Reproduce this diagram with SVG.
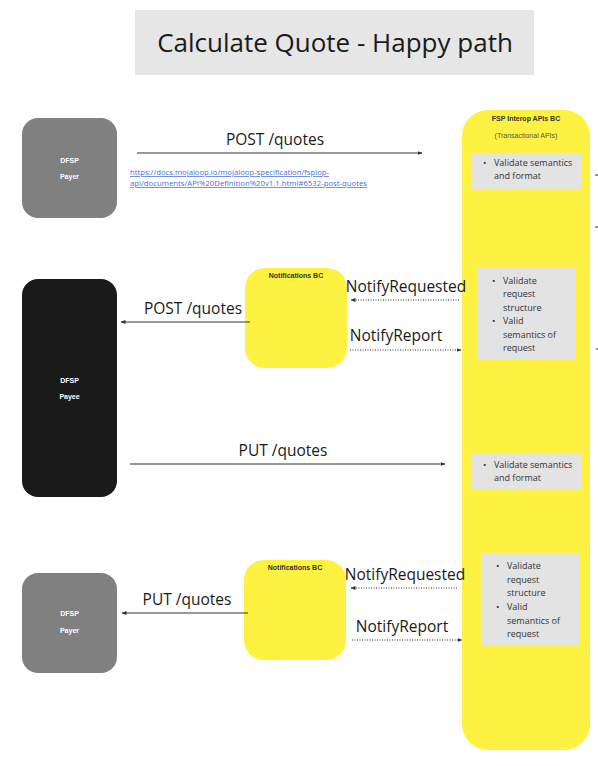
<svg xmlns="http://www.w3.org/2000/svg" width="598" height="766" viewBox="0 0 598 766">
  <defs>
    <marker id="arrow" viewBox="0 0 10 10" refX="9" refY="5" markerWidth="5" markerHeight="5" orient="auto-start-reverse">
      <path d="M0,1 L10,5 L0,9 z" fill="#333"/>
    </marker>
    <style>
      .lbl { font-family: "Open Sans", "Liberation Sans", sans-serif; font-size: 15.5px; fill: #1a1a1a; }
      .node-txt { font-family: "Liberation Sans", Arial, sans-serif; font-size: 7px; font-weight: bold; fill: #ffffff; text-anchor: middle; }
      .bc-title { font-family: "Liberation Sans", Arial, sans-serif; font-size: 7px; font-weight: bold; fill: #333; text-anchor: middle; }
      .bc-sub { font-family: "Liberation Sans", Arial, sans-serif; font-size: 7px; fill: #555; text-anchor: middle; }
      .bullet { font-family: "Open Sans", "Liberation Sans", sans-serif; font-size: 9px; fill: #333; }
      .yellow { fill: #fdf142; }
      .grey-box { fill: #e3e3e3; }
      .solid { stroke: #333; stroke-width: 1; fill: none; }
      .dotted { stroke: #333; stroke-width: 1; stroke-dasharray: 1 1.5; fill: none; }
      .link { font-family: "Open Sans", "Liberation Sans", sans-serif; font-size: 7.6px; fill: #4a6fd5; text-decoration: underline; }
    </style>
  </defs>

  <rect width="598" height="766" fill="#ffffff"/>

  <!-- Title -->
  <g id="title">
    <rect x="135" y="10" width="399" height="65" fill="#e6e6e6"/>
    <text x="335" y="52" text-anchor="middle" font-family="'Open Sans', 'Liberation Sans', sans-serif" font-size="26" fill="#1a1a1a">Calculate Quote - Happy path</text>
  </g>

  <!-- FSP Interop APIs column -->
  <g id="fsp-interop">
    <rect class="yellow" x="462" y="110" width="128" height="640" rx="26"/>
    <text class="bc-title" x="526" y="121">FSP Interop APIs BC</text>
    <text class="bc-sub" x="526" y="138">(Transactional APIs)</text>
    <rect class="grey-box" x="471" y="153" width="111" height="37"/>
    <text class="bullet" x="483" y="166">•</text>
    <text class="bullet" x="494" y="166">Validate semantics</text>
    <text class="bullet" x="494" y="179">and format</text>

    <rect class="grey-box" x="477" y="268" width="99" height="92"/>
    <text class="bullet" x="492" y="284">•</text>
    <text class="bullet" x="503" y="284">Validate</text>
    <text class="bullet" x="503" y="297">request</text>
    <text class="bullet" x="503" y="311">structure</text>
    <text class="bullet" x="492" y="324">•</text>
    <text class="bullet" x="503" y="324">Valid</text>
    <text class="bullet" x="503" y="338">semantics of</text>
    <text class="bullet" x="503" y="351">request</text>

    <rect class="grey-box" x="471" y="454" width="111" height="35"/>
    <text class="bullet" x="483" y="468">•</text>
    <text class="bullet" x="494" y="468">Validate semantics</text>
    <text class="bullet" x="494" y="481">and format</text>

    <rect class="grey-box" x="481" y="553" width="99" height="93"/>
    <text class="bullet" x="496" y="569">•</text>
    <text class="bullet" x="507" y="569">Validate</text>
    <text class="bullet" x="507" y="583">request</text>
    <text class="bullet" x="507" y="596">structure</text>
    <text class="bullet" x="496" y="610">•</text>
    <text class="bullet" x="507" y="610">Valid</text>
    <text class="bullet" x="507" y="624">semantics of</text>
    <text class="bullet" x="507" y="637">request</text>
  </g>

  <!-- DFSP Payer (top) -->
  <g id="dfsp-payer-1">
    <rect x="22" y="118" width="95" height="100" rx="16" fill="#808080"/>
    <text class="node-txt" x="69.5" y="163">DFSP</text>
    <text class="node-txt" x="69.5" y="179">Payer</text>
  </g>

  <!-- DFSP Payee -->
  <g id="dfsp-payee">
    <rect x="22" y="279" width="95" height="218" rx="16" fill="#1a1a1a"/>
    <text class="node-txt" x="69.5" y="383">DFSP</text>
    <text class="node-txt" x="69.5" y="399">Payee</text>
  </g>

  <!-- DFSP Payer (bottom) -->
  <g id="dfsp-payer-2">
    <rect x="22" y="573" width="95" height="100" rx="16" fill="#808080"/>
    <text class="node-txt" x="69.5" y="616">DFSP</text>
    <text class="node-txt" x="69.5" y="633">Payer</text>
  </g>

  <!-- Notifications BC (top) -->
  <g id="notifications-1">
    <rect class="yellow" x="245" y="268" width="102" height="100" rx="20"/>
    <text class="bc-title" x="296" y="278">Notifications BC</text>
  </g>

  <!-- Notifications BC (bottom) -->
  <g id="notifications-2">
    <rect class="yellow" x="244" y="560" width="102" height="100" rx="20"/>
    <text class="bc-title" x="295" y="570">Notifications BC</text>
  </g>

  <!-- Connectors -->
  <g id="connectors">
    <line class="solid" x1="137" y1="153" x2="422" y2="153" marker-end="url(#arrow)"/>
    <text class="lbl" x="275" y="145" text-anchor="middle">POST /quotes</text>
    <text class="link" x="130" y="175" textLength="199" lengthAdjust="spacingAndGlyphs">https://docs.mojaloop.io/mojaloop-specification/fspiop-</text>
    <text class="link" x="130" y="186" textLength="237" lengthAdjust="spacingAndGlyphs">api/documents/API%20Definition%20v1.1.html#6532-post-quotes</text>

    <line class="solid" x1="250" y1="322" x2="121" y2="322" marker-end="url(#arrow)"/>
    <text class="lbl" x="193" y="314" text-anchor="middle">POST /quotes</text>

    <line class="dotted" x1="459" y1="300" x2="351" y2="300" marker-end="url(#arrow)"/>
    <text class="lbl" x="406" y="292" text-anchor="middle">NotifyRequested</text>

    <line class="dotted" x1="350" y1="350" x2="461" y2="350" marker-end="url(#arrow)"/>
    <text class="lbl" x="396" y="341" text-anchor="middle">NotifyReport</text>

    <line class="solid" x1="130" y1="464" x2="445" y2="464" marker-end="url(#arrow)"/>
    <text class="lbl" x="283" y="456" text-anchor="middle">PUT /quotes</text>

    <line class="dotted" x1="457" y1="588" x2="351" y2="588" marker-end="url(#arrow)"/>
    <text class="lbl" x="405" y="580" text-anchor="middle">NotifyRequested</text>

    <line class="dotted" x1="352" y1="640" x2="462" y2="640" marker-end="url(#arrow)"/>
    <text class="lbl" x="402" y="632" text-anchor="middle">NotifyReport</text>

    <line class="solid" x1="248" y1="613" x2="122" y2="613" marker-end="url(#arrow)"/>
    <text class="lbl" x="187" y="605" text-anchor="middle">PUT /quotes</text>

    <!-- stubs running off the right edge -->
    <line class="solid" x1="595" y1="175" x2="598" y2="175"/>
    <line class="solid" x1="595" y1="227" x2="598" y2="227"/>
    <line class="solid" x1="596" y1="349" x2="598" y2="349"/>
  </g>
</svg>
